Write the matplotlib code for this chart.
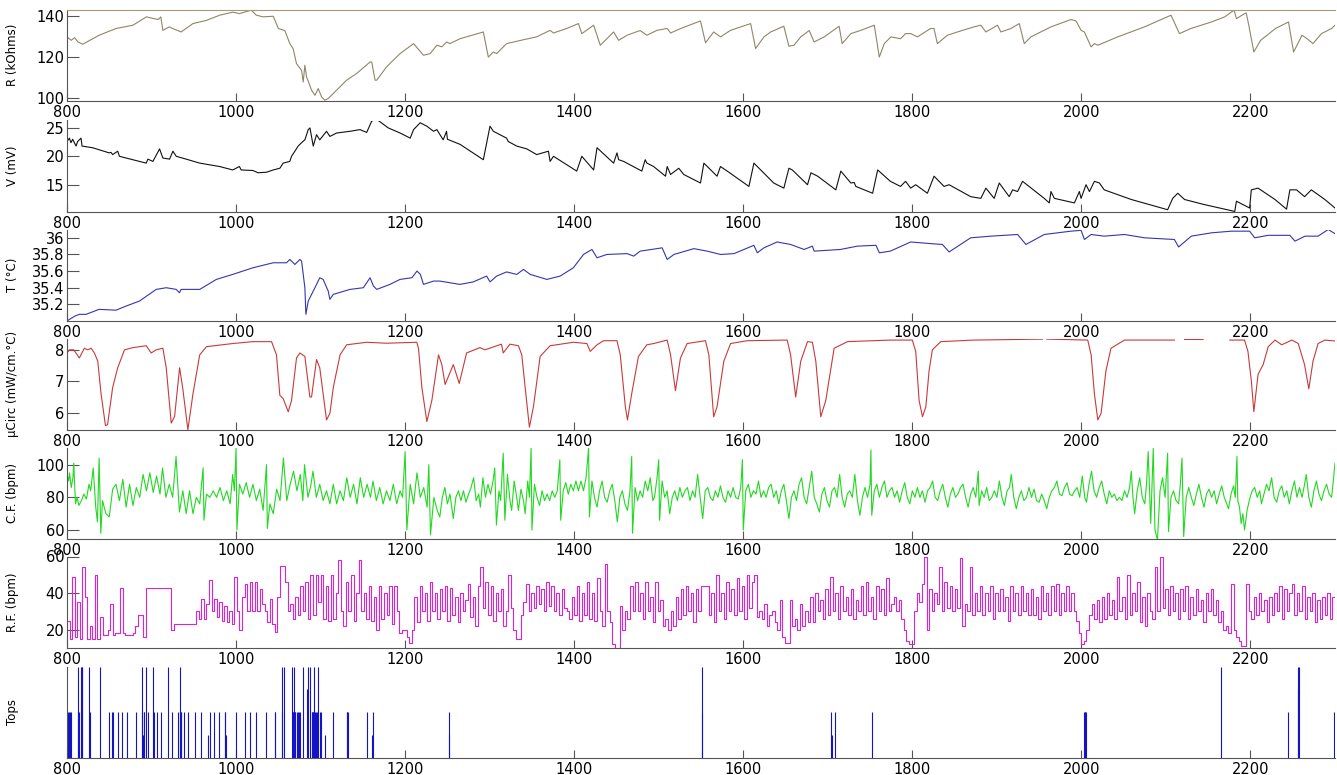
import matplotlib
matplotlib.use("Agg")
import matplotlib.pyplot as plt
import numpy as np

nan = np.nan

# R (kOhms) - (x, value) vertices
r_pts = [(800, 129.9), (805, 128.2), (809, 129.5), (813, 127.4), (818.6, 126.3), (838, 130.7), (858, 134),
         (878, 135.6), (894, 139.7), (902, 138.9), (908, 138.4), (911, 139.7), (913.4, 133.1), (921, 134.8),
         (925, 134), (935, 132.3), (949, 136.4), (965, 138), (980.6, 140.5), (996, 142), (1004, 141.3),
         (1018, 143), (1024, 140.5), (1032, 139.7), (1044, 140), (1050, 134), (1057.7, 133), (1063.6, 126.6),
         (1067.6, 124), (1071.5, 116.8), (1077.5, 113.5), (1079.4, 107.8), (1081.4, 116), (1083.4, 110.3),
         (1089.3, 103.8), (1093.3, 101.3), (1097.2, 104.6), (1101.2, 100.5), (1105, 98.9), (1109, 99.7),
         (1119, 103.8), (1130.8, 108.7), (1142.7, 112), (1158.5, 117.6), (1160.5, 117.6), (1164.4, 108.7),
         (1166.4, 108.7), (1178, 115.2), (1194, 121.7), (1210, 126.6), (1221.7, 120.9), (1229.6, 121.7),
         (1237.5, 125.8), (1243.4, 125), (1249, 127.4), (1253, 126.6), (1265, 129), (1292.5, 132.3),
         (1298.4, 120), (1304.3, 122.5), (1308.3, 121.7), (1320, 126.6), (1340, 128.5), (1355.6, 129.9),
         (1371.5, 133.1), (1375.5, 131.8), (1391, 134), (1405, 136.4), (1409, 131.5), (1423, 135.6),
         (1430.8, 125.8), (1438.7, 129), (1446.6, 132.3), (1452.6, 128.2), (1462.5, 130.7), (1478, 133),
         (1486, 130.7), (1498, 133.1), (1510, 134), (1514, 131.8), (1526, 134), (1549.4, 137.7), (1555.3, 127),
         (1565, 132.3), (1573, 129.9), (1585, 133.1), (1608.7, 136.4), (1614.6, 124.2), (1624.5, 129.9),
         (1632.4, 132.3), (1648, 135.1), (1654, 125.3), (1660, 125.8), (1668, 129.9), (1678, 133),
         (1683.8, 127.4), (1695.7, 129.9), (1713.4, 135.1), (1717, 126.6), (1727.3, 131.5), (1739, 133.1),
         (1755, 135.6), (1760.9, 120), (1766.8, 126.6), (1774.7, 129.9), (1786, 129), (1792, 131.5),
         (1798, 131.5), (1806, 129.9), (1821.7, 134), (1825.6, 134), (1829.6, 126.6), (1841.5, 130.7),
         (1853.3, 132.3), (1873, 134.8), (1881, 135.6), (1887, 132.3), (1900.8, 135.6), (1904.7, 132.3),
         (1916.6, 134), (1926.5, 136.4), (1932.4, 126.6), (1940.3, 129.9), (1964, 134.8), (1987.7, 138.4),
         (1993.6, 137.7), (1999.6, 133.1), (2003.5, 132.3), (2011.5, 125), (2015.4, 126.6), (2019.4, 125.8),
         (2043, 129.9), (2074.7, 134.8), (2106, 140.5), (2116, 131.5), (2129.6, 134), (2153.8, 137.2),
         (2169.6, 139.7), (2180.6, 143), (2183.4, 138.8), (2193, 141.3), (2195, 141.6), (2198, 135.6),
         (2204, 122.5), (2212, 128.2), (2229.6, 134), (2245, 137.2), (2251, 122.5), (2261, 130.7),
         (2267, 129), (2274, 126.6), (2284, 131.5), (2296, 134), (2300, 135.6)]

# V (mV)
v_pts = [(800, 22.6), (802.8, 23.2), (804.7, 22.4), (806.7, 23), (810.7, 21.8), (812.6, 22.6), (816.6, 23.2),
         (817.8, 21.8), (830.5, 21.5), (850, 20.6), (852, 20.7), (854, 20.3), (860, 20.9), (862, 20),
         (878, 19.4), (893.7, 18.8), (895.7, 19.5), (901.6, 19.1), (909.5, 21.3), (913.4, 19.7), (921.3, 19.5),
         (925.3, 20.9), (929.2, 20), (941, 19.5), (957, 18.8), (980.6, 18.2), (996, 17.6), (1004, 18.2),
         (1006, 17.6), (1020, 17.5), (1026, 17.1), (1036, 17.2), (1044, 17.6), (1051.8, 17.9), (1055.7, 18.8),
         (1063.6, 19.1), (1065.6, 20), (1069.6, 20.9), (1073.5, 21.8), (1077.5, 22.4), (1081.4, 22.9),
         (1085.4, 24.7), (1087.4, 25), (1091.3, 21.8), (1095.2, 23.8), (1099, 22.9), (1107, 24.4),
         (1111, 23.5), (1119, 24.1), (1134.8, 24.4), (1146.6, 24.7), (1154.5, 24.2), (1160.5, 26.2),
         (1166.4, 26.5), (1180, 25), (1194, 24.1), (1206, 23.2), (1210, 24.7), (1217.8, 25.9), (1225.7, 25.3),
         (1233.6, 24.4), (1237.5, 24.7), (1245, 22.9), (1249, 24.4), (1250, 23), (1265, 22.1), (1292.5, 19.4),
         (1300.4, 25.3), (1304.4, 24.4), (1308.3, 24.1), (1320, 23.2), (1322, 22.6), (1332, 21.8),
         (1344, 21.3), (1355.6, 20.3), (1369.5, 20.9), (1371.5, 19.1), (1375.5, 20), (1403, 17.4),
         (1409, 20), (1423, 17.6), (1427, 21.5), (1446.6, 18.8), (1450.6, 20.6), (1452.6, 19.4),
         (1458.5, 19.1), (1480, 17.4), (1484, 19.4), (1486, 18.8), (1494, 18.2), (1508, 16.5), (1510, 18.2),
         (1514, 16.8), (1523.7, 17.9), (1529.6, 16.8), (1549.4, 15.3), (1553.4, 18.8), (1569, 16.5),
         (1573, 18.2), (1581, 17.4), (1606.7, 14.7), (1612.6, 18.8), (1636, 15.3), (1648, 14.4),
         (1654, 17.9), (1658, 17.6), (1676, 15), (1680, 17.1), (1688, 16.5), (1709.5, 14.1), (1715.4, 17.4),
         (1727.3, 15.3), (1731.2, 15.4), (1733.2, 14.7), (1753, 13.5), (1759, 17.6), (1774, 15.6),
         (1786, 14.7), (1792, 15.6), (1798, 14.4), (1804, 15), (1817.8, 13.5), (1825.7, 16.5), (1837.5, 14.7),
         (1843.5, 15), (1869, 12.9), (1881, 12.6), (1887, 14.4), (1896.8, 12.6), (1902.8, 15.3),
         (1914.6, 12.9), (1918.6, 14.1), (1924.5, 13.8), (1930.4, 15.6), (1956, 12.6), (1962, 11.8),
         (1964, 13.8), (1968, 12.6), (1991.7, 11.8), (1997.6, 13.8), (1999.6, 12.6), (2005.5, 15),
         (2009.5, 13.8), (2015.4, 15.6), (2021.3, 15.3), (2027, 14.1), (2059, 12.4), (2102, 10.6),
         (2108, 12.6), (2114, 13.5), (2122, 12.4), (2145.6, 11.5), (2181.4, 10.3), (2183.4, 12.1),
         (2199, 10.9), (2201, 14.1), (2209, 14.4), (2229, 12.4), (2242.7, 10.7), (2246.6, 14.1),
         (2254.5, 14.1), (2264, 12.9), (2272, 14.1), (2288, 12.4), (2300, 10.9)]

# T (degC)
t_pts = [(800, 35.0), (803, 35.02), (809.5, 35.06), (814.6, 35.08), (822.5, 35.08), (838, 35.14), (858, 35.13),
         (870, 35.18), (885.8, 35.24), (905.5, 35.38), (917.4, 35.4), (929.2, 35.38), (933, 35.34), (935, 35.38),
         (957, 35.38), (976.7, 35.5), (996, 35.56), (1020, 35.64), (1043.9, 35.7), (1059.7, 35.7),
         (1063.6, 35.74), (1069.6, 35.68), (1075.5, 35.74), (1077.5, 35.72), (1081.4, 35.4), (1082.6, 35.08),
         (1085.4, 35.24), (1093.3, 35.4), (1099, 35.52), (1103, 35.5), (1109, 35.36), (1111, 35.26),
         (1115, 35.32), (1134.8, 35.38), (1150.6, 35.4), (1158.5, 35.52), (1162.5, 35.42), (1166.4, 35.38),
         (1182, 35.44), (1194, 35.5), (1208, 35.52), (1214, 35.6), (1218, 35.56), (1221.7, 35.44),
         (1233.6, 35.48), (1241, 35.48), (1264.8, 35.44), (1280.6, 35.47), (1296.4, 35.54), (1300.4, 35.47),
         (1308.3, 35.54), (1320, 35.59), (1332, 35.56), (1340, 35.62), (1348, 35.56), (1367.6, 35.5),
         (1383.4, 35.54), (1399, 35.64), (1411, 35.8), (1421, 35.86), (1427, 35.76), (1438.7, 35.8),
         (1462.5, 35.81), (1470.4, 35.78), (1478, 35.84), (1498, 35.87), (1504, 35.88), (1510, 35.74),
         (1518, 35.8), (1541.5, 35.87), (1557.3, 35.84), (1573, 35.8), (1589, 35.81), (1612.6, 35.91),
         (1616.6, 35.82), (1624.5, 35.88), (1640, 35.95), (1656, 35.92), (1672, 35.86), (1681.8, 35.9),
         (1683.8, 35.84), (1715, 35.86), (1735, 35.9), (1757, 35.91), (1761, 35.82), (1774, 35.84),
         (1798, 35.95), (1822, 35.93), (1835.6, 35.92), (1843.5, 35.83), (1869, 36.0), (1893, 36.02),
         (1924.5, 36.04), (1934.4, 35.92), (1956, 36.04), (1987.7, 36.08), (1999.6, 36.09), (2003.6, 35.98),
         (2011.5, 36.04), (2027, 36.02), (2051, 36.04), (2074.7, 36.0), (2110, 35.98), (2115, 35.89),
         (2130, 36.02), (2153.8, 36.06), (2177.5, 36.08), (2199, 36.08), (2205, 36.0), (2221, 36.03),
         (2246.6, 36.03), (2252.6, 35.96), (2264.5, 36.02), (2280, 36.02), (2292, 36.1), (2300, 36.05)]

# microcirculation (mW/cm.degC), nan = gap in the record
mc_pts = [(800, 7.9), (803, 8.0), (808, 8.0), (814.6, 7.74), (820.5, 8.05), (824.5, 8.0), (828.5, 8.05),
          (832.4, 7.9), (836.4, 7.64), (840.3, 6.6), (845.5, 5.59), (848, 5.62), (854, 6.8), (860, 7.43),
          (868, 8.0), (878, 8.07), (893.7, 8.13), (899.6, 7.9), (905.5, 8.0), (913.4, 8.05), (917.4, 7.43),
          (923.3, 5.67), (927.3, 5.88), (933.2, 7.43), (937, 6.76), (943, 5.46), (949, 6.6), (957, 7.84),
          (965, 8.1), (996, 8.2), (1020, 8.26), (1042, 8.26), (1047.8, 7.84), (1051.8, 6.55), (1055.7, 6.45),
          (1061.7, 6.03), (1065.6, 6.39), (1071.5, 7.74), (1075.5, 7.9), (1081.4, 7.79), (1087.3, 6.5),
          (1089.3, 6.5), (1095.2, 7.69), (1099, 7.43), (1105, 6.19), (1107, 5.77), (1111, 5.98), (1115, 6.8),
          (1123, 7.84), (1130.8, 8.16), (1154.5, 8.24), (1178, 8.21), (1213.8, 8.24), (1215.8, 8.05),
          (1219.8, 6.8), (1225.7, 5.72), (1231.6, 6.39), (1239.5, 7.84), (1243.4, 7.53), (1247.3, 6.9),
          (1257, 7.53), (1264, 6.93), (1272.7, 7.9), (1288.5, 8.07), (1294.4, 8.0), (1314, 8.18), (1316, 7.9),
          (1324, 8.18), (1334, 8.13), (1338, 7.84), (1342, 6.8), (1347, 5.54), (1351.8, 6.19), (1359.7, 7.79),
          (1371.5, 8.13), (1399, 8.24), (1415, 8.2), (1419, 7.95), (1427, 8.16), (1434.8, 8.29),
          (1450.6, 8.29), (1454.5, 7.84), (1460.5, 6.19), (1463, 5.77), (1468, 6.6), (1476, 7.79),
          (1486, 8.16), (1494, 8.2), (1510, 8.31), (1514, 7.84), (1519.8, 6.7), (1525.7, 7.74), (1533.6, 8.2),
          (1555.3, 8.29), (1559.3, 7.84), (1565, 5.87), (1569, 6.19), (1577, 7.64), (1585, 8.2),
          (1604.7, 8.29), (1652, 8.31), (1656, 7.84), (1662, 6.5), (1668, 7.64), (1676, 8.26), (1681.8, 8.24),
          (1685.8, 7.64), (1691.7, 5.87), (1697.6, 6.39), (1707.5, 8.05), (1723.3, 8.26), (1774, 8.31),
          (1800, 8.31), (1804, 7.95), (1808, 6.39), (1812, 5.87), (1816, 6.19), (1819.8, 7.33), (1823.7, 8.0),
          (1833.6, 8.26), (1873, 8.31), (1954, 8.34), (1955, nan), (1959, 8.34), (2007.5, 8.31),
          (2011.5, 7.84), (2015.4, 6.6), (2019.4, 5.77), (2023.3, 5.98), (2029, 7.33), (2035, 8.05),
          (2051, 8.31), (2110, 8.31), (2115, nan), (2122, 8.33), (2144, 8.33), (2150, nan), (2175.5, 8.31),
          (2193, 8.31), (2197, 7.95), (2201, 7.02), (2204, 6.03), (2209, 7.22), (2215, 7.53), (2221, 8.1),
          (2229, 8.31), (2237, 8.16), (2249, 8.31), (2256.5, 8.2), (2264, 7.53), (2269, 6.76), (2274, 7.64),
          (2280, 8.2), (2288, 8.31), (2300, 8.28)]

# C.F. (bpm) turning points
cf_pts = [(800, 94), (802, 90), (803, 95), (805, 86), (807, 92), (808, 101), (810, 76), (812, 80), (814, 75),
          (817, 78), (820, 82), (823, 79), (826, 88), (828, 84), (831, 98), (834, 74), (836, 65), (838, 104),
          (840, 58), (842, 78), (846, 70), (850, 68), (854, 85), (858, 88), (862, 78), (866, 91), (870, 74),
          (874, 88), (878, 75), (882, 86), (886, 80), (890, 94), (894, 84), (898, 95), (902, 83), (906, 93),
          (910, 82), (913, 98), (917, 80), (921, 88), (925, 80), (929, 105), (933, 71), (937, 84), (941, 70),
          (945, 84), (949, 70), (953, 80), (957, 76), (961, 98), (962, 66), (965, 82), (969, 80), (973, 84),
          (977, 80), (981, 86), (985, 78), (989, 84), (993, 76), (996, 94), (998, 84), (1000, 110), (1001, 60),
          (1004, 88), (1008, 82), (1012, 89), (1016, 80), (1020, 88), (1024, 78), (1028, 85), (1032, 72),
          (1036, 100), (1037, 61), (1040, 76), (1044, 70), (1048, 85), (1052, 78), (1056, 104), (1060, 78),
          (1064, 88), (1068, 96), (1072, 84), (1076, 94), (1079, 78), (1081, 100), (1085, 80), (1088, 86),
          (1091, 96), (1095, 80), (1099, 88), (1103, 78), (1107, 84), (1111, 76), (1115, 88), (1119, 76),
          (1123, 84), (1127, 78), (1131, 92), (1135, 80), (1139, 88), (1143, 76), (1147, 92), (1151, 80),
          (1155, 88), (1159, 80), (1162, 90), (1166, 78), (1170, 86), (1174, 76), (1178, 84), (1182, 78),
          (1186, 88), (1190, 76), (1194, 84), (1197, 80), (1200, 108), (1202, 60), (1206, 88), (1210, 76),
          (1214, 95), (1218, 80), (1222, 86), (1226, 74), (1228, 100), (1230, 57), (1234, 80), (1238, 72),
          (1241, 68), (1244, 80), (1247, 86), (1250, 76), (1253, 82), (1257, 67), (1260, 80), (1263, 84),
          (1266, 78), (1269, 84), (1272, 77), (1275, 82), (1278, 86), (1281, 92), (1284, 78), (1287, 82),
          (1289, 74), (1292, 92), (1295, 80), (1298, 88), (1301, 82), (1304, 90), (1306, 98), (1308, 63),
          (1311, 84), (1313, 78), (1316, 107), (1318, 66), (1321, 94), (1324, 78), (1326, 72), (1329, 90),
          (1332, 80), (1334, 72), (1337, 85), (1340, 78), (1342, 70), (1345, 90), (1347, 80), (1349, 110),
          (1350, 60), (1353, 88), (1356, 80), (1359, 75), (1362, 84), (1365, 78), (1368, 82), (1371, 78),
          (1374, 84), (1377, 80), (1380, 84), (1383, 103), (1384, 66), (1387, 84), (1390, 89), (1393, 82),
          (1396, 88), (1399, 84), (1402, 90), (1405, 84), (1408, 90), (1411, 84), (1414, 92), (1417, 110),
          (1418, 68), (1421, 90), (1424, 80), (1427, 74), (1430, 84), (1433, 90), (1436, 80), (1439, 77),
          (1442, 84), (1445, 88), (1448, 78), (1451, 65), (1454, 80), (1457, 84), (1460, 76), (1463, 72),
          (1466, 84), (1468, 105), (1469, 58), (1472, 86), (1475, 78), (1478, 84), (1481, 80), (1484, 90),
          (1487, 84), (1490, 92), (1493, 78), (1495, 80), (1498, 92), (1500, 103), (1501, 66), (1504, 90),
          (1507, 80), (1510, 84), (1513, 70), (1516, 80), (1519, 84), (1522, 78), (1525, 86), (1528, 80),
          (1531, 84), (1534, 86), (1537, 78), (1540, 84), (1543, 80), (1546, 94), (1549, 80), (1552, 67),
          (1555, 84), (1558, 86), (1561, 80), (1564, 78), (1567, 84), (1570, 80), (1573, 87), (1576, 80),
          (1579, 77), (1582, 84), (1585, 80), (1588, 86), (1591, 80), (1594, 79), (1597, 86), (1599, 103),
          (1600, 60), (1603, 84), (1606, 88), (1609, 80), (1612, 84), (1615, 82), (1618, 90), (1621, 80),
          (1624, 84), (1627, 80), (1630, 86), (1633, 88), (1636, 80), (1639, 84), (1642, 76), (1645, 84),
          (1648, 88), (1651, 78), (1654, 67), (1657, 80), (1660, 84), (1663, 78), (1666, 88), (1669, 92),
          (1672, 80), (1675, 76), (1678, 86), (1681, 96), (1684, 80), (1687, 76), (1690, 71), (1693, 82),
          (1696, 86), (1699, 78), (1702, 74), (1705, 84), (1708, 86), (1711, 80), (1714, 94), (1717, 80),
          (1720, 74), (1723, 82), (1726, 84), (1729, 80), (1732, 94), (1735, 78), (1738, 69), (1741, 80),
          (1744, 86), (1747, 80), (1750, 88), (1751, 109), (1752, 69), (1755, 84), (1758, 88), (1761, 80),
          (1764, 86), (1767, 90), (1770, 80), (1773, 84), (1776, 86), (1779, 80), (1782, 84), (1785, 77),
          (1788, 84), (1791, 89), (1794, 80), (1797, 76), (1800, 84), (1803, 80), (1806, 86), (1809, 80),
          (1812, 84), (1815, 77), (1818, 84), (1821, 86), (1824, 90), (1827, 80), (1830, 78), (1833, 84),
          (1836, 88), (1839, 80), (1842, 74), (1845, 82), (1848, 86), (1851, 80), (1854, 82), (1857, 86),
          (1860, 88), (1863, 80), (1866, 74), (1869, 82), (1872, 86), (1875, 80), (1878, 96), (1879, 75),
          (1882, 84), (1885, 80), (1888, 86), (1891, 78), (1894, 80), (1897, 84), (1900, 80), (1903, 90),
          (1906, 80), (1909, 75), (1912, 84), (1915, 86), (1917, 94), (1920, 80), (1923, 73), (1926, 80),
          (1929, 84), (1932, 78), (1935, 80), (1938, 86), (1941, 80), (1944, 85), (1947, 78), (1950, 77),
          (1953, 82), (1956, 78), (1959, 73), (1962, 80), (1965, 84), (1968, 86), (1971, 90), (1974, 82),
          (1977, 81), (1980, 86), (1983, 89), (1986, 82), (1989, 81), (1992, 84), (1995, 86), (1998, 80),
          (2001, 93), (2004, 80), (2006, 77), (2009, 88), (2012, 96), (2015, 84), (2018, 80), (2021, 86),
          (2024, 90), (2027, 82), (2030, 76), (2033, 84), (2036, 80), (2039, 82), (2042, 78), (2045, 80),
          (2048, 78), (2051, 84), (2054, 80), (2057, 86), (2059, 96), (2061, 80), (2063, 70), (2066, 84),
          (2069, 92), (2072, 80), (2075, 76), (2077, 88), (2079, 108), (2082, 64), (2085, 110), (2087, 60),
          (2090, 54), (2093, 84), (2096, 92), (2099, 80), (2102, 107), (2103, 59), (2106, 80), (2109, 84),
          (2112, 78), (2115, 76), (2117, 88), (2119, 104), (2121, 56), (2124, 80), (2127, 86), (2130, 80),
          (2133, 75), (2136, 82), (2139, 88), (2142, 80), (2145, 74), (2148, 82), (2151, 85), (2154, 80),
          (2157, 84), (2160, 76), (2163, 82), (2166, 87), (2169, 80), (2172, 76), (2174, 73), (2177, 82),
          (2180, 87), (2182, 80), (2184, 105), (2185, 78), (2187, 74), (2189, 64), (2191, 70), (2193, 60),
          (2196, 72), (2199, 79), (2202, 84), (2205, 86), (2208, 80), (2211, 84), (2213, 76), (2216, 82),
          (2219, 88), (2222, 84), (2225, 92), (2228, 80), (2231, 77), (2234, 84), (2237, 87), (2240, 80),
          (2243, 84), (2246, 76), (2249, 84), (2252, 90), (2255, 80), (2258, 86), (2261, 80), (2264, 88),
          (2266, 94), (2269, 80), (2272, 74), (2275, 84), (2278, 90), (2281, 82), (2284, 78), (2287, 84),
          (2290, 88), (2293, 82), (2296, 80), (2298, 90), (2300, 101)]

# R.F. (bpm), one value every 3 samples from 800, held (step plot)
rf_start, rf_step = 800, 3
rf_vals = [25, 15, 49, 16, 35, 15, 54, 38, 15, 22, 15, 50, 15, 27, 17, 17, 20, 34, 17, 18,
           18, 43, 18, 17, 17, 17, 18, 22, 28, 28, 16, 43, 43, 43, 43, 43, 43, 43, 43, 43,
           43, 20, 23, 23, 23, 23, 23, 23, 23, 23, 23, 30, 26, 37, 26, 34, 47, 30, 37, 27,
           35, 25, 33, 24, 30, 23, 49, 30, 20, 38, 45, 30, 46, 30, 46, 30, 42, 34, 30, 24,
           37, 23, 19, 38, 55, 55, 46, 30, 34, 26, 38, 28, 44, 30, 46, 26, 50, 28, 50, 35,
           50, 26, 44, 25, 50, 26, 40, 58, 30, 22, 46, 30, 50, 25, 40, 58, 30, 40, 26, 44,
           25, 38, 20, 44, 26, 40, 28, 44, 23, 44, 30, 18, 20, 20, 16, 13, 20, 38, 24, 44,
           30, 40, 25, 46, 30, 40, 26, 42, 30, 44, 25, 43, 28, 38, 24, 40, 30, 36, 45, 27,
           38, 22, 44, 54, 32, 46, 28, 44, 25, 40, 30, 42, 22, 30, 50, 32, 20, 15, 15, 28,
           35, 45, 30, 40, 32, 44, 34, 42, 30, 46, 33, 44, 30, 40, 28, 42, 32, 30, 26, 38,
           28, 44, 25, 40, 28, 46, 26, 40, 25, 48, 30, 22, 56, 30, 24, 12, 10, 10, 33, 20,
           30, 26, 44, 30, 46, 30, 40, 26, 46, 30, 38, 24, 46, 30, 36, 22, 26, 20, 30, 22,
           38, 26, 42, 28, 44, 30, 40, 24, 42, 30, 44, 44, 44, 28, 40, 24, 50, 30, 40, 26,
           46, 30, 42, 28, 48, 30, 44, 26, 50, 32, 46, 50, 27, 30, 26, 34, 22, 28, 30, 24,
           20, 36, 16, 13, 13, 36, 22, 26, 20, 34, 22, 30, 24, 38, 24, 40, 30, 36, 26, 42,
           28, 49, 30, 40, 26, 44, 30, 38, 28, 42, 26, 36, 30, 44, 28, 46, 30, 38, 26, 44,
           30, 42, 28, 48, 30, 34, 38, 30, 36, 26, 20, 14, 12, 12, 30, 40, 35, 45, 60, 20,
           42, 30, 40, 34, 54, 30, 46, 32, 44, 30, 42, 32, 59, 22, 34, 30, 54, 28, 40, 30,
           44, 28, 40, 30, 44, 26, 40, 30, 42, 30, 38, 25, 44, 30, 40, 28, 44, 30, 40, 28,
           42, 28, 38, 26, 44, 30, 40, 28, 44, 30, 45, 28, 40, 30, 44, 30, 40, 30, 25, 18,
           12, 14, 20, 28, 34, 26, 36, 24, 38, 26, 40, 28, 36, 26, 49, 30, 38, 26, 50, 28,
           40, 30, 46, 24, 38, 22, 40, 30, 26, 54, 30, 60, 32, 42, 28, 44, 30, 40, 26, 42,
           30, 44, 26, 38, 28, 42, 30, 36, 24, 40, 30, 42, 28, 36, 24, 30, 20, 22, 18, 45,
           20, 16, 14, 11, 11, 45, 30, 26, 38, 28, 40, 30, 36, 24, 38, 28, 40, 30, 44, 26,
           42, 30, 40, 45, 28, 40, 30, 44, 26, 38, 30, 40, 24, 36, 26, 38, 28, 40, 26, 38,
           43]

# Tops: event positions and counts
tops_pts = [(801.5, 2), (802.5, 2), (803.5, 2), (804.5, 2), (812.6, 4), (813.4, 2), (814.2, 2), (816.6, 4),
            (817.4, 4), (818, 4), (826.5, 4), (827.3, 2), (839.5, 4), (849.4, 2), (853.4, 2), (855, 2), (860, 2),
            (865, 2), (871, 2), (881.8, 2), (888.5, 4), (889.3, 2), (889.9, 1), (891, 2), (891.6, 2),
            (893.7, 4), (896.4, 2), (901.6, 4), (902.4, 2), (906, 2), (911.5, 2), (919.4, 4), (924.5, 2),
            (931.6, 2), (933.2, 4), (933.8, 2), (934.4, 2), (935.2, 2), (938.3, 2), (943, 2), (951, 2), (959, 2),
            (966.8, 1), (968.8, 2), (973.5, 2), (979.4, 2), (986.6, 2), (987.2, 2), (988.5, 1), (1000.4, 2),
            (1010.3, 2), (1016.2, 2), (1024, 2), (1036, 2), (1045.8, 2), (1046.4, 2), (1053.8, 4), (1054.6, 2),
            (1057, 4), (1066, 4), (1066.8, 2), (1067.4, 2), (1068, 4), (1068.8, 2), (1069.4, 2), (1070.2, 2),
            (1072, 2), (1073.8, 2), (1074.5, 2), (1076, 2), (1079.4, 4), (1083.4, 3), (1085.4, 4), (1087.4, 4),
            (1089.3, 2), (1090, 2), (1090.8, 2), (1091.6, 2), (1092.4, 4), (1093.2, 2), (1094, 2), (1095.2, 2),
            (1097.2, 4), (1099, 2), (1101, 2), (1105, 1), (1115, 2), (1131, 2), (1131.8, 2), (1133, 2),
            (1154.5, 2), (1161.3, 1), (1162.5, 2), (1251.4, 1), (1252.2, 2), (1550.6, 4), (1551.2, 2),
            (1704, 2), (1704.6, 1), (1708.7, 2), (1751.8, 2), (2003.6, 2), (2004.2, 2), (2004.8, 2),
            (2005.5, 2), (2165.6, 4), (2243.9, 2), (2255.7, 4), (2256.5, 3), (2257.3, 4), (2298.8, 2),
            (2299.6, 1), (2300, 2)]

x_ticks = [800, 1000, 1200, 1400, 1600, 1800, 2000, 2200]

panels = [
    # label, yticks, ylim, colour
    ("R (kOhms)", [100, 120, 140], (98.5, 143.3), "#8f8669"),
    ("V (mV)", [15, 20, 25], (10.2, 26.3), "#111111"),
    ("T (\u00b0C)", [35.2, 35.4, 35.6, 35.8, 36], (35.0, 36.1), "#3535b0"),
    ("\u00b5Circ (mW/cm.\u00b0C)", [6, 7, 8], (5.45, 8.36), "#c83a3a"),
    ("C.F. (bpm)", [60, 80, 100], (54.5, 110.5), "#22d822"),
    ("R.F. (bpm)", [20, 40, 60], (10, 60), "#d624d6"),
    ("Tops", [], (0, 4), "#1414c4"),
]


def style_axis(ax, label, yticks, ylim):
    for side in ("top", "right"):
        ax.spines[side].set_visible(False)
    for side in ("left", "bottom"):
        ax.spines[side].set_color("#555555")
        ax.spines[side].set_linewidth(0.8)
    ax.set_xlim(800, 2300)
    ax.set_ylim(*ylim)
    ax.set_xticks(x_ticks)
    ax.set_yticks(yticks)
    ax.set_yticklabels([f"{t:g}" for t in yticks])
    ax.tick_params(axis="x", direction="in", length=6, width=0.8, color="#555555",
                   labelsize=10.5, pad=3)
    ax.tick_params(axis="y", direction="in", length=8.5, width=0.8, color="#555555",
                   labelsize=10.5, pad=2)
    ax.set_ylabel(label, fontsize=8.5)
    ax.yaxis.set_label_coords(-0.038, 0.5)


def main():
    plt.rcParams["font.family"] = ["DejaVu Sans"]
    fig = plt.figure(figsize=(13.37, 7.75), dpi=100)
    W, H = 1337.0, 775.0
    left, right = 67, 1335
    bottoms = [101, 212, 321, 430, 539, 648, 758]
    h = 91.5

    series = [r_pts, v_pts, t_pts, mc_pts, cf_pts]
    axes = []
    for i, (label, yt, yl, col) in enumerate(panels):
        ax = fig.add_axes([left / W, 1 - bottoms[i] / H, (right - left) / W, h / H])
        axes.append(ax)
        style_axis(ax, label, yt, yl)
        if i < 5:
            xs, ys = np.array(series[i], dtype=float).T
            ax.plot(xs, ys, color=col, lw=0.8)
        elif i == 5:
            rf_x = rf_start + rf_step * np.arange(len(rf_vals))
            ax.plot(rf_x, rf_vals, color=col, lw=0.8, drawstyle="steps-post")
        else:
            tx, th = np.array(tops_pts, dtype=float).T
            ax.vlines(tx, 0, th, color=col, lw=0.8)

    # thin frame line along the top of the first panel
    axes[0].spines["top"].set_visible(True)
    axes[0].spines["top"].set_color("#a89a78")
    axes[0].spines["top"].set_linewidth(0.8)

    fig.savefig("out.png", dpi=100)
    plt.close("all")


if __name__ == "__main__":
    main()
